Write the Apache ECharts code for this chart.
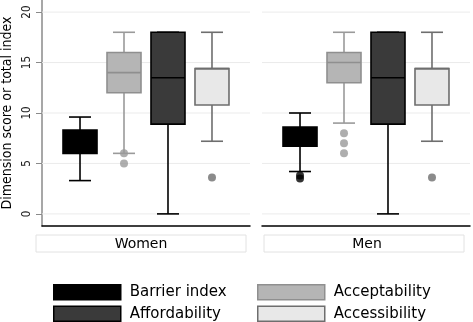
<!DOCTYPE html>
<html>
<head>
<meta charset="utf-8">
<script src="https://cdn.jsdelivr.net/npm/echarts@6/dist/echarts.min.js"></script>
<style>
html,body{margin:0;padding:0;background:#fff;}
#chart{width:473px;height:322px;}
</style>
</head>
<body>
<div id="chart"></div>
<script>
// ---- data ----
const categories = ['Barrier index', 'Acceptability', 'Affordability', 'Accessibility'];
const panelNames = ['Women', 'Men'];
const positions = [1, 2, 3, 4];
// [min whisker, Q1, median, Q3, max whisker]
const womenBox = [
  [3.3, 6.0, 7.0, 8.3, 9.6],
  [6.0, 12.0, 14.0, 16.0, 18.0],
  [0.0, 8.9, 13.5, 18.0, 18.0],
  [7.2, 10.8, 14.4, 14.4, 18.0]
];
const menBox = [
  [4.2, 6.7, 7.6, 8.6, 10.0],
  [9.0, 13.0, 15.0, 16.0, 18.0],
  [0.0, 8.9, 13.5, 18.0, 18.0],
  [7.2, 10.8, 14.4, 14.4, 18.0]
];
const womenOutliers = [[], [6, 5], [], [3.6]];
const menOutliers = [[3.5, 3.8], [8, 7, 6], [], [3.6]];
const yTicks = [0, 5, 10, 15, 20];
const yTitle = 'Dimension score or total index';

// ---- styles ----
const styles = [
  {fill: '#000000', stroke: '#000000', whisker: '#000000', dot: '#000000'},
  {fill: '#b5b5b5', stroke: '#8f8f8f', whisker: '#9a9a9a', dot: '#9a9a9a'},
  {fill: '#3a3a3a', stroke: '#000000', whisker: '#000000', dot: '#3a3a3a'},
  {fill: '#e8e8e8', stroke: '#6e6e6e', whisker: '#6e6e6e', dot: '#6e6e6e'}
];
const BOX_W = 34, CAP_W = 22, LW = 1.6;
const WIDE = '"DejaVu Sans", Verdana, sans-serif';
const NARROW = '"DejaVu Sans Condensed", "DejaVu Sans", sans-serif';

function boxRenderer(st) {
  return function (params, api) {
    const x = api.value(0);
    const c = v => api.coord([x, v]);
    const pMin = c(api.value(1)), pQ1 = c(api.value(2)), pMed = c(api.value(3)),
          pQ3 = c(api.value(4)), pMax = c(api.value(5));
    const cx = pMin[0], hw = BOX_W / 2, cw = CAP_W / 2;
    const ls = {stroke: st.whisker, lineWidth: LW};
    return {
      type: 'group',
      children: [
        {type: 'line', shape: {x1: cx, y1: pMax[1], x2: cx, y2: pQ3[1]}, style: ls},
        {type: 'line', shape: {x1: cx, y1: pQ1[1], x2: cx, y2: pMin[1]}, style: ls},
        {type: 'line', shape: {x1: cx - cw, y1: pMax[1], x2: cx + cw, y2: pMax[1]}, style: ls},
        {type: 'line', shape: {x1: cx - cw, y1: pMin[1], x2: cx + cw, y2: pMin[1]}, style: ls},
        {type: 'rect', shape: {x: cx - hw, y: pQ3[1], width: BOX_W, height: pQ1[1] - pQ3[1]},
          style: {fill: st.fill, stroke: st.stroke, lineWidth: LW}},
        {type: 'line', shape: {x1: cx - hw, y1: pMed[1], x2: cx + hw, y2: pMed[1]},
          style: {stroke: st.stroke, lineWidth: LW}}
      ]
    };
  };
}

function gridRenderer(params, api) {
  const y = api.coord([0, api.value(0)])[1];
  const cs = params.coordSys;
  return {type: 'line', shape: {x1: cs.x, y1: y, x2: cs.x + cs.width, y2: y},
    style: {stroke: '#ebebeb', lineWidth: 1}};
}

const series = [];
[womenBox, menBox].forEach((boxes, p) => {
  const outl = p === 0 ? womenOutliers : menOutliers;
  series.push({
    type: 'custom', name: 'grid' + p, xAxisIndex: p, yAxisIndex: p, z: 1, silent: true,
    data: yTicks.map(v => [v]), encode: {y: 0}, renderItem: gridRenderer
  });
  categories.forEach((cat, i) => {
    const st = styles[i];
    series.push({
      type: 'custom', name: cat, xAxisIndex: p, yAxisIndex: p, z: 2,
      itemStyle: {color: st.fill, borderColor: st.stroke, borderWidth: 1.5},
      data: [[positions[i]].concat(boxes[i])],
      encode: {x: 0, y: [1, 2, 3, 4, 5]},
      renderItem: boxRenderer(st)
    });
    if (outl[i].length) {
      series.push({
        type: 'scatter', name: cat + ' outliers', xAxisIndex: p, yAxisIndex: p, z: 3,
        symbolSize: 8, itemStyle: {color: st.dot},
        data: outl[i].map(v => [positions[i], v])
      });
    }
  });
});

const xAxisBase = {
  type: 'value', min: 0.136, max: 4.864,
  axisLine: {show: true, onZero: false, lineStyle: {color: '#000', width: 1.5}},
  axisTick: {show: false}, axisLabel: {show: false}, splitLine: {show: false}
};

function legendFor(left, idxs) {
  return {
    left: left, top: 284, width: 200, height: 60, padding: 0,
    orient: 'vertical', icon: 'rect', itemWidth: 67, itemHeight: 15, itemGap: 5,
    selectedMode: false,
    textStyle: {fontSize: 15, lineHeight: 16, color: '#000', fontFamily: WIDE, padding: [0, 0, 0, 4]},
    data: idxs.map(i => ({
      name: categories[i],
      itemStyle: {color: styles[i].fill, borderColor: styles[i].stroke, borderWidth: 1.5}
    }))
  };
}

const option = {
  animation: false,
  backgroundColor: '#ffffff',
  grid: [
    {left: 42, top: 0, width: 208, height: 226, outerBoundsMode: 'none', containLabel: false},
    {left: 262, top: 0, width: 208, height: 226, outerBoundsMode: 'none', containLabel: false}
  ],
  xAxis: [Object.assign({gridIndex: 0}, xAxisBase), Object.assign({gridIndex: 1}, xAxisBase)],
  yAxis: [
    {
      gridIndex: 0, type: 'value', min: -1.2, max: 21.2,
      name: yTitle, nameLocation: 'middle', nameRotate: 90, nameGap: 28,
      nameTextStyle: {fontSize: 14, color: '#000', fontFamily: NARROW},
      axisLine: {show: true, onZero: false, lineStyle: {color: '#8a8a8a', width: 1.5}},
      axisTick: {show: true, customValues: yTicks, length: 6, lineStyle: {color: '#8a8a8a'}},
      axisLabel: {customValues: yTicks, rotate: 90, margin: 9, fontSize: 11.5, color: '#222', fontFamily: NARROW},
      splitLine: {show: false}
    },
    {
      gridIndex: 1, type: 'value', min: -1.2, max: 21.2, show: false,
      axisLine: {onZero: false}, splitLine: {show: false}
    }
  ],
  legend: [legendFor(53, [0, 2]), legendFor(257, [1, 3])],
  graphic: [
    {type: 'rect', shape: {x: 36, y: 235, width: 210, height: 17},
      style: {fill: '#fff', stroke: '#e2e2e2', lineWidth: 1}},
    {type: 'text', x: 141, y: 244,
      style: {text: panelNames[0], fontSize: 14, fontFamily: WIDE, fill: '#000', align: 'center', verticalAlign: 'middle'}},
    {type: 'rect', shape: {x: 264, y: 235, width: 200, height: 17},
      style: {fill: '#fff', stroke: '#e2e2e2', lineWidth: 1}},
    {type: 'text', x: 367, y: 244,
      style: {text: panelNames[1], fontSize: 14, fontFamily: WIDE, fill: '#000', align: 'center', verticalAlign: 'middle'}}
  ],
  series: series
};

const chart = echarts.init(document.getElementById('chart'), null, {renderer: 'canvas'});
chart.setOption(option);
</script>
</body>
</html>
